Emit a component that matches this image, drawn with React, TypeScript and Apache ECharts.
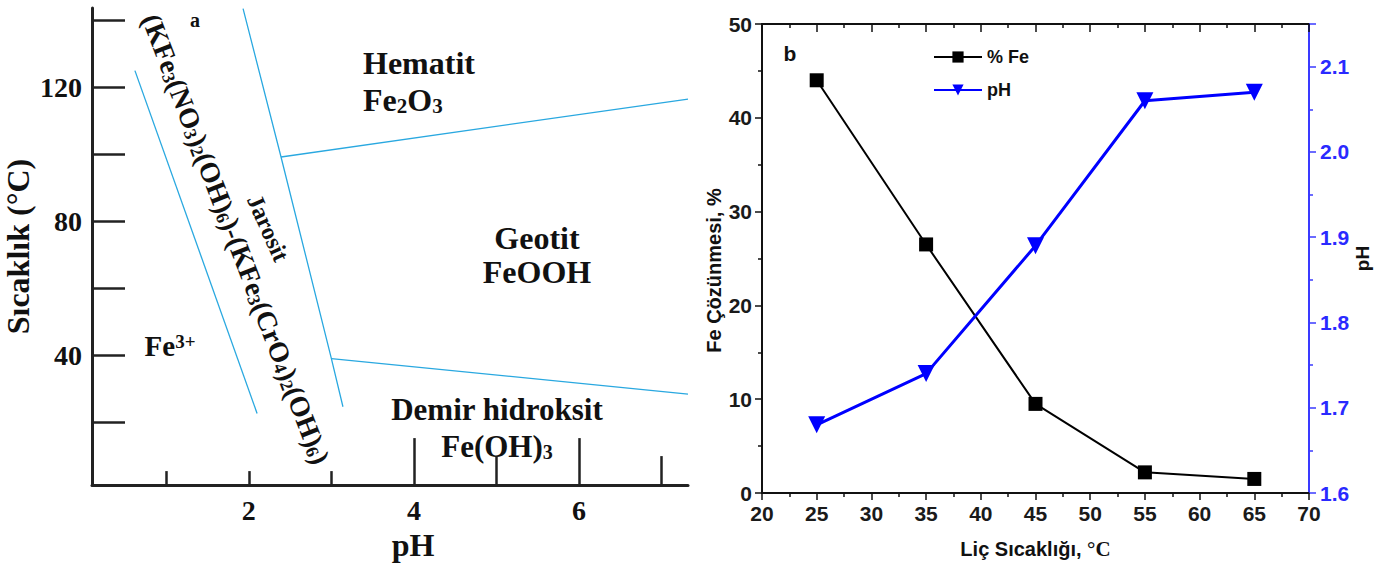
import React, { useEffect, useRef } from 'react';
import * as echarts from 'echarts';

// ---------- Panel b data ----------
const temperatures = [25, 35, 45, 55, 65];
const feDissolution = [44.0, 26.5, 9.5, 2.2, 1.5];
const phValues = [1.68, 1.74, 1.89, 2.06, 2.07];

// ---------- Panel a boundary lines (pH, °C) ----------
const boundaryFe3Jarosite = [[0.62, 125], [2.1, 22.6]];
const boundaryJarositeRight = [[1.93, 143.5], [2.39, 99.2], [3.0, 39.0], [3.14, 24.6]];
const boundaryHematiteGoethite = [[2.39, 99.2], [7.32, 116.5]];
const boundaryGoethiteHydroxide = [[3.0, 39.0], [7.32, 28.4]];

// ---------- Panel a axis ticks / labels ----------
const phTicksShort = [1, 2, 3];
const phTicksMedium = [5, 7];
const phTicksLong = [4, 6];
const phLabels = [2, 4, 6];
const tempTicks = [20, 40, 60, 80, 100, 120, 140];
const tempLabels = [40, 80, 120];

const SERIF = "'Liberation Serif', 'Times New Roman', serif";
const SANS = "'Liberation Sans', Arial, sans-serif";
const NARROW = "'Liberation Sans Narrow', 'Arial Narrow', 'Liberation Sans', sans-serif";
const BOUNDARY = '#29a8e0';
const BLUE = '#0000ff';
const AXISBLUE = '#3a3aff';

const serifRich = (size: number, sub: number) => ({
  m: { fontSize: size, fontWeight: 'bold', fontFamily: SERIF, fill: '#111', lineHeight: size },
  s: { fontSize: sub, fontWeight: 'bold', fontFamily: SERIF, fill: '#111', lineHeight: Math.round(sub * 0.8), verticalAlign: 'bottom' },
  u: { fontSize: sub, fontWeight: 'bold', fontFamily: SERIF, fill: '#111', lineHeight: Math.round(sub * 0.8), verticalAlign: 'top' },
});

export default function App() {
  const ref = useRef<HTMLDivElement>(null);

  useEffect(() => {
    if (!ref.current) return;
    const chart = echarts.init(ref.current, null, { renderer: 'svg' });

    const aMin = 0.1, aMax = 7.32, tMin = 1.2, tMax = 143.7;
    const aLineSeries = (name: string, data: number[][]) => ({
      name,
      type: 'line',
      xAxisIndex: 0,
      yAxisIndex: 0,
      data,
      symbol: 'none',
      lineStyle: { color: BOUNDARY, width: 1.3 },
      silent: true,
    });

    const bTickLabel = { fontFamily: NARROW, fontWeight: 'bold', fontSize: 21, color: '#1a1a1a' };

    const option: any = {
      animation: false,
      backgroundColor: '#ffffff',
      grid: [
        { left: 92, top: 8, width: 596, height: 487 },
        { left: 762, right: 77, top: 24, bottom: 73 },
      ],
      legend: {
        data: ['% Fe', 'pH'],
        left: 928,
        top: 43,
        orient: 'vertical',
        itemWidth: 48,
        itemHeight: 14,
        itemGap: 15,
        textStyle: { fontFamily: SANS, fontWeight: 'bold', fontSize: 18, color: '#111' },
      },
      xAxis: [
        {
          gridIndex: 0, type: 'value', min: aMin, max: aMax, position: 'bottom',
          name: 'pH', nameLocation: 'middle', nameGap: 36,
          nameTextStyle: { fontFamily: SERIF, fontWeight: 'bold', fontSize: 32, color: '#111', padding: [0, 0, 0, 46], verticalAlign: 'top' },
          axisLine: { show: true, lineStyle: { color: '#222', width: 3 } },
          axisTick: { show: true, inside: true, length: 14, lineStyle: { color: '#222', width: 2.5 }, customValues: phTicksShort },
          axisLabel: { show: true, customValues: phLabels, margin: 11, fontFamily: SERIF, fontWeight: 'bold', fontSize: 28, color: '#111' },
          splitLine: { show: false },
        },
        {
          gridIndex: 0, type: 'value', min: aMin, max: aMax, position: 'bottom',
          axisLine: { show: false },
          axisTick: { show: true, inside: true, length: 29, lineStyle: { color: '#222', width: 2.5 }, customValues: phTicksMedium },
          axisLabel: { show: false },
          splitLine: { show: false },
        },
        {
          gridIndex: 0, type: 'value', min: aMin, max: aMax, position: 'bottom',
          axisLine: { show: false },
          axisTick: { show: true, inside: true, length: 47, lineStyle: { color: '#222', width: 2.5 }, customValues: phTicksLong },
          axisLabel: { show: false },
          splitLine: { show: false },
        },
        {
          gridIndex: 1, type: 'value', min: 20, max: 70, interval: 5, position: 'bottom',
          name: '{a|Liç Sıcaklığı, }{c|°C}', nameLocation: 'middle', nameGap: 45,
          nameTextStyle: {
            fontFamily: SANS, fontWeight: 'bold', fontSize: 20, color: '#111', verticalAlign: 'top',
            rich: {
              a: { fontFamily: SANS, fontWeight: 'bold', fontSize: 20, color: '#111' },
              c: { fontFamily: SERIF, fontWeight: 'bold', fontSize: 21, color: '#111' },
            },
          },
          axisLine: { lineStyle: { color: '#111', width: 2 } },
          axisTick: { inside: false, length: 7, lineStyle: { color: '#111', width: 1.5 } },
          minorTick: { show: true, splitNumber: 2, length: 4, lineStyle: { color: '#111', width: 1.5 } },
          axisLabel: { ...bTickLabel, margin: 10 },
          splitLine: { show: false },
        },
        {
          gridIndex: 1, type: 'value', min: 20, max: 70, interval: 5, position: 'top',
          axisLine: { lineStyle: { color: '#111', width: 2 } },
          axisTick: { inside: true, length: 8, lineStyle: { color: '#111', width: 1.5 } },
          minorTick: { show: true, splitNumber: 2, length: 4, lineStyle: { color: '#111', width: 1.5 } },
          axisLabel: { show: false },
          splitLine: { show: false },
        },
      ],
      yAxis: [
        {
          gridIndex: 0, type: 'value', min: tMin, max: tMax, position: 'left',
          name: 'Sıcaklık (°C)', nameLocation: 'middle', nameGap: 58,
          nameTextStyle: { fontFamily: SERIF, fontWeight: 'bold', fontSize: 32, color: '#111' },
          axisLine: { show: true, lineStyle: { color: '#222', width: 3 } },
          axisTick: { show: true, inside: true, length: 33, lineStyle: { color: '#222', width: 2.5 }, customValues: tempTicks },
          axisLabel: { show: true, customValues: tempLabels, margin: 10, fontFamily: SERIF, fontWeight: 'bold', fontSize: 28, color: '#111' },
          splitLine: { show: false },
        },
        {
          gridIndex: 1, type: 'value', min: 0, max: 50, interval: 10, position: 'left',
          name: 'Fe Çözünmesi, %', nameLocation: 'middle', nameGap: 38,
          nameTextStyle: { fontFamily: SANS, fontWeight: 'bold', fontSize: 20, color: '#111', padding: [0, 24, 0, 0] },
          axisLine: { lineStyle: { color: '#111', width: 2 } },
          axisTick: { inside: false, length: 7, lineStyle: { color: '#111', width: 1.5 } },
          minorTick: { show: true, splitNumber: 2, length: 4, lineStyle: { color: '#111', width: 1.5 } },
          axisLabel: { ...bTickLabel, margin: 10 },
          splitLine: { show: false },
        },
        {
          gridIndex: 1, type: 'value', min: 1.6, max: 2.15, interval: 0.1, position: 'right',
          name: 'pH', nameLocation: 'middle', nameGap: 40, nameRotate: 90,
          nameTextStyle: { fontFamily: SANS, fontWeight: 'bold', fontSize: 19, color: '#111' },
          axisLine: { lineStyle: { color: AXISBLUE, width: 2 } },
          axisTick: { inside: false, length: 7, lineStyle: { color: AXISBLUE, width: 1.5 } },
          minorTick: { show: true, splitNumber: 2, length: 4, lineStyle: { color: AXISBLUE, width: 1.5 } },
          axisLabel: {
            ...bTickLabel, color: '#2a2aff', margin: 11, showMaxLabel: false,
            formatter: (v: number) => v.toFixed(1),
          },
          splitLine: { show: false },
        },
      ],
      series: [
        aLineSeries('sınır 1', boundaryFe3Jarosite),
        aLineSeries('sınır 2', boundaryJarositeRight),
        aLineSeries('sınır 3', boundaryHematiteGoethite),
        aLineSeries('sınır 4', boundaryGoethiteHydroxide),
        {
          name: '% Fe', type: 'line', xAxisIndex: 3, yAxisIndex: 1,
          data: temperatures.map((t, i) => [t, feDissolution[i]]),
          symbol: 'rect', symbolSize: 14,
          itemStyle: { color: '#000' },
          lineStyle: { color: '#000', width: 2 },
          z: 3,
        },
        {
          name: 'pH', type: 'line', xAxisIndex: 3, yAxisIndex: 2,
          data: temperatures.map((t, i) => [t, phValues[i]]),
          symbol: 'triangle', symbolRotate: 180, symbolSize: 17,
          itemStyle: { color: BLUE },
          lineStyle: { color: BLUE, width: 3 },
          z: 4,
        },
      ],
      graphic: [
        { type: 'text', x: 195, y: 20, style: { text: 'a', fontFamily: SERIF, fontWeight: 'bold', fontSize: 20, fill: '#111', align: 'center', verticalAlign: 'middle' } },
        {
          type: 'text', x: 363, y: 63,
          style: { text: '{m|Hematit}', rich: serifRich(32, 21), align: 'left', verticalAlign: 'middle' },
        },
        {
          type: 'text', x: 363, y: 100,
          style: { text: '{m|Fe}{s|2}{m|O}{s|3}', rich: serifRich(32, 21), align: 'left', verticalAlign: 'middle' },
        },
        {
          type: 'text', x: 537, y: 238,
          style: { text: '{m|Geotit}', rich: serifRich(32, 21), align: 'center', verticalAlign: 'middle' },
        },
        {
          type: 'text', x: 537, y: 272,
          style: { text: '{m|FeOOH}', rich: serifRich(32, 21), align: 'center', verticalAlign: 'middle' },
        },
        {
          type: 'text', x: 497, y: 409,
          style: { text: '{m|Demir hidroksit}', rich: serifRich(31, 20), align: 'center', verticalAlign: 'middle' },
        },
        {
          type: 'text', x: 497, y: 446,
          style: { text: '{m|Fe(OH)}{s|3}', rich: serifRich(31, 20), align: 'center', verticalAlign: 'middle' },
        },
        {
          type: 'text', x: 170, y: 346,
          style: { text: '{m|Fe}{u|3+}', rich: serifRich(29, 19), align: 'center', verticalAlign: 'middle' },
        },
        {
          type: 'text', x: 236, y: 239, rotation: -69 * Math.PI / 180,
          style: {
            text: '{m|(KFe}{s|3}{m|(NO}{s|3}{m|)}{s|2}{m|(OH)}{s|6}{m|)-(KFe}{s|3}{m|(CrO}{s|4}{m|)}{s|2}{m|(OH)}{s|6}{m|)}',
            rich: serifRich(28, 18), align: 'center', verticalAlign: 'middle',
          },
        },
        {
          type: 'text', x: 268, y: 228, rotation: -66 * Math.PI / 180,
          style: { text: '{m|Jarosit}', rich: serifRich(24, 16), align: 'center', verticalAlign: 'middle' },
        },
        { type: 'text', x: 790, y: 53, style: { text: 'b', fontFamily: SANS, fontWeight: 'bold', fontSize: 21, fill: '#111', align: 'center', verticalAlign: 'middle' } },
      ],
    };

    chart.setOption(option);
    return () => chart.dispose();
  }, []);

  return (
    <div
      ref={ref}
      style={{ position: 'absolute', left: 0, top: 0, width: 1386, height: 566, background: '#fff' }}
    />
  );
}
